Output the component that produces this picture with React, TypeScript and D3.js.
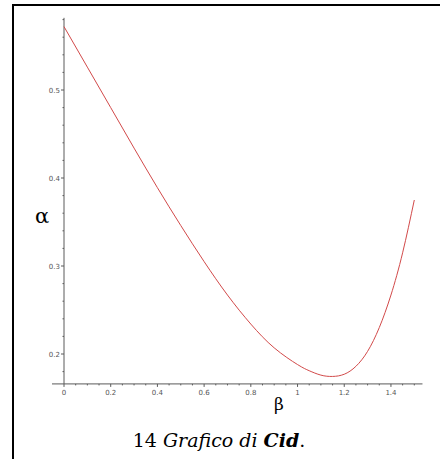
import React from "react";
import * as d3 from "d3";

const betaValues = [0, 0.1, 0.2, 0.3, 0.4, 0.5, 0.6, 0.7, 0.8, 0.9, 1.0, 1.05, 1.1, 1.15, 1.2, 1.25, 1.3, 1.35, 1.4, 1.45, 1.5];
const alphaValues = [0.572, 0.526, 0.48, 0.434, 0.389, 0.346, 0.305, 0.267, 0.234, 0.207, 0.188, 0.181, 0.176, 0.1745, 0.177, 0.186, 0.203, 0.23, 0.267, 0.315, 0.375];
const xTicks = [0, 0.2, 0.4, 0.6, 0.8, 1, 1.2, 1.4];
const yTicks = [0.2, 0.3, 0.4, 0.5];

const W = 440;
const H = 459;
const SERIF = "DejaVu Serif";

export default function App() {
  const x = d3.scaleLinear().domain([0, 1.5]).range([64, 414.3]);
  const y = d3.scaleLinear().domain([0.2, 0.5]).range([354, 90]);
  const xMin = -0.03;
  const xMax = 1.535;
  const yMin = 0.166;
  const yMax = 0.582;
  const pts = betaValues.map((b, i) => [b, alphaValues[i]] as [number, number]);
  const line = d3
    .line<[number, number]>()
    .x((d) => x(d[0]))
    .y((d) => y(d[1]))
    .curve(d3.curveNatural);

  const xMinor = d3.range(0, 1.5001, 0.05).filter((v) => !xTicks.some((t) => Math.abs(t - v) < 1e-6));
  const yMinor = d3.range(0.18, 0.581, 0.02).filter((v) => !yTicks.some((t) => Math.abs(t - v) < 1e-6));
  const axisColor = "#5a5a5a";
  const x0 = x(0);
  const yAxisPos = y(yMin);

  return (
    <svg width={W} height={H} style={{ position: "absolute", left: 0, top: 0, background: "#fff" }}>
      <rect x={0} y={0} width={W} height={H} fill="#fff" />
      <line x1={13} y1={5} x2={440} y2={5} stroke="#000" strokeWidth={2} />
      <line x1={13} y1={4} x2={13} y2={459} stroke="#000" strokeWidth={2} />
      <line x1={x(xMin) - 5} y1={yAxisPos} x2={x(xMax)} y2={yAxisPos} stroke={axisColor} strokeWidth={1} />
      <line x1={x0} y1={yAxisPos} x2={x0} y2={y(yMax)} stroke={axisColor} strokeWidth={1} />
      {xTicks.map((t) => (
        <g key={"xt" + t}>
          <line x1={x(t)} x2={x(t)} y1={yAxisPos} y2={yAxisPos + 3} stroke={axisColor} />
          <text x={x(t)} y={yAxisPos + 11} fontSize={7} fill="#555" textAnchor="middle" fontFamily="DejaVu Sans">
            {String(t)}
          </text>
        </g>
      ))}
      {xMinor.map((t) => (
        <line key={"xm" + t} x1={x(t)} x2={x(t)} y1={yAxisPos} y2={yAxisPos + 1.5} stroke={axisColor} />
      ))}
      {yTicks.map((t) => (
        <g key={"yt" + t}>
          <line x1={x0 - 3} x2={x0} y1={y(t)} y2={y(t)} stroke={axisColor} />
          <text x={x0 - 4} y={y(t) + 2.5} fontSize={7} fill="#555" textAnchor="end" fontFamily="DejaVu Sans">
            {String(t)}
          </text>
        </g>
      ))}
      {yMinor.map((t) => (
        <line key={"ym" + t} x1={x0 - 1.5} x2={x0} y1={y(t)} y2={y(t)} stroke={axisColor} />
      ))}
      <path d={line(pts) || ""} fill="none" stroke="#d24a4a" strokeWidth={1} />
      <text x={42} y={223} fontSize={21} fontFamily={SERIF} textAnchor="middle" fill="#000">
        α
      </text>
      <text x={279} y={410} fontSize={17} fontFamily={SERIF} textAnchor="middle" fill="#000">
        β
      </text>
      <text x={219} y={447} fontSize={19} fontFamily={SERIF} textAnchor="middle" fill="#000">
        <tspan>14 </tspan>
        <tspan fontStyle="italic">Grafico di </tspan>
        <tspan fontStyle="italic" fontWeight="bold">Cid</tspan>
        <tspan>.</tspan>
      </text>
    </svg>
  );
}
